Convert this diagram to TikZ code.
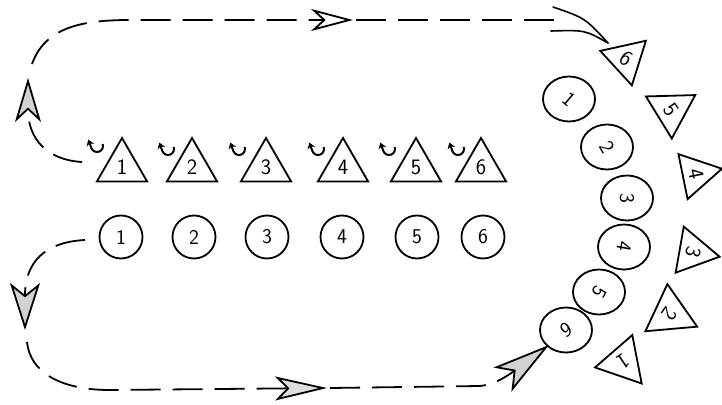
\documentclass[tikz,border=0pt]{standalone}
\usetikzlibrary{shapes.geometric,arrows.meta}
\begin{document}
\begin{tikzpicture}[x=1pt,y=1pt,
  numfont/.style={font=\sffamily\fontsize{21}{21}\selectfont},
  trifont/.style={font=\sffamily\fontsize{22}{22}\selectfont},
  tri/.style={regular polygon, regular polygon sides=3, draw, line width=1.8pt,
    inner sep=0pt, minimum size=58pt, trifont},
  rowcirc/.style={circle, draw, line width=1.8pt, minimum size=43pt, inner sep=0pt, numfont},
  arccirc/.style={ellipse, draw, line width=1.8pt, minimum width=52pt, minimum height=45pt, inner sep=0pt},
  num/.style={inner sep=0pt, numfont},
  route/.style={line width=1.8pt, dash pattern=on 30pt off 12pt},
  barb/.style={line width=1.6pt, line cap=round},
  curl/.style={line width=2pt, -{Stealth[length=6pt, width=8pt]}}
]
\fill[white] (0,0) rectangle (722,-404);
\useasboundingbox (0,0) rectangle (722,-404);

% top row of triangles
\foreach \x/\n in {122/1,192/2,266/3,343/4,416/5,481/6}
  \node[tri] (t\n) at (\x,-167) {\n};

% curl arrows
\foreach \x/\y in {97/146,168/149,239/149,318/149,389/149,458/149}
  \draw[curl] (\x,-\y) ++(20:6) arc[start angle=20, end angle=-160, radius=6] -- ++(110:9);

% row of circles
\foreach \x/\n in {121/1,194/2,267/3,342/4,417/5,483/6}
  \node[rowcirc] (c\n) at (\x,-237) {\n};

% arc of circles
\foreach \x/\y/\n/\r in {569/99/1/-40,607/147/2/-60,627/198/3/-90,624/247/4/-100,599/292/5/-120,566/330/6/-150}{
  \node[arccirc] (rc\n) at (\x,-\y) {};
  \node[num, rotate=\r] (rc\n n) at (rc\n) {\n};
}

% arc of triangles
\node[tri, minimum size=54pt, rotate=-35,  shape border rotate=-12.5] (rt6) at (626,-59) {6};
\node[tri, minimum size=57pt, rotate=-56,  shape border rotate=-2.4] (rt5) at (671,-110) {5};
\node[tri, minimum size=53pt, rotate=-78,  shape border rotate=-0.5] (rt4) at (696,-174) {4};
\node[tri, minimum size=54pt, rotate=-104, shape border rotate=4] (rt3) at (693,-252) {3};
\node[tri, minimum size=60pt, rotate=-125, shape border rotate=10] (rt2) at (670,-314) {2};
\node[tri, minimum size=57pt, rotate=-146, shape border rotate=7] (rt1) at (623,-362) {1};

% route coordinates
\coordinate (a0) at (82,-162);
\coordinate (a1) at (28,-78);
\coordinate (b0) at (32,-64);
\coordinate (b1) at (353,-20);
\coordinate (c0) at (356,-20);
\coordinate (cend) at (558,-20);
\coordinate (bu) at (553,-7);
\coordinate (bl) at (551,-31);
\coordinate (c1) at (608,-43);
\coordinate (d0) at (85,-240);
\coordinate (d1) at (25,-330);
\coordinate (e0) at (27,-342);
\coordinate (e1) at (327,-388);
\coordinate (f0) at (330,-388);
\coordinate (f1) at (549,-345);

% upper route
\draw[route, -{Stealth[length=44pt, width=26pt, inset=12pt, fill=gray!35]}]
  (a0) .. controls (48,-160) and (28,-140) .. (a1);
\draw[route, -{Stealth[length=42pt, width=22pt, inset=12pt, fill=white]}]
  (b0) .. controls (45,-28) and (80,-20) .. (130,-20) -- (b1);
\draw[route] (c0) -- (cend);
\draw[barb] (bu) .. controls (585,-18) .. (c1);
\draw[barb] (bl) .. controls (585,-30) .. (c1);

% lower route
\draw[route, -{Stealth[length=47pt, width=30pt, inset=12pt, fill=gray!35]}]
  (d0) .. controls (45,-242) and (25,-262) .. (d1);
\draw[route, -{Stealth[length=52pt, width=24pt, inset=12pt, fill=gray!25]}]
  (e0) .. controls (30,-372) and (60,-390) .. (110,-390) -- (e1);
\draw[route, -{Stealth[length=58pt, width=30pt, inset=14pt, fill=gray!35]}]
  (f0) -- (480,-386) .. controls (495,-385) and (510,-374) .. (f1);
\end{tikzpicture}
\end{document}
